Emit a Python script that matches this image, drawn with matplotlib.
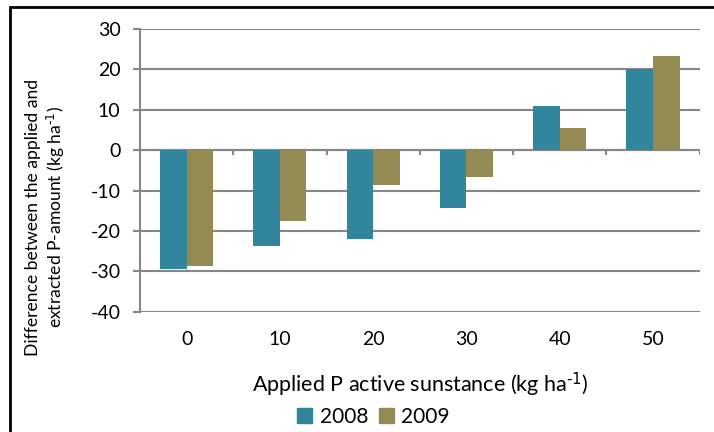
import matplotlib
matplotlib.use('Agg')
import matplotlib.pyplot as plt
from matplotlib.patches import Rectangle, Patch
import numpy as np

# Applied P rates (kg/ha)
categories = ['0', '10', '20', '30', '40', '50']
years = ['2008', '2009']
diff_2008 = [-29.5, -23.6, -22.0, -14.3, 11.0, 20.0]
diff_2009 = [-28.6, -17.5, -8.7, -6.7, 5.5, 23.3]
colors = ['#31859C', '#948A54']

plt.rcParams['font.family'] = ['Lato', 'DejaVu Sans']
plt.rcParams['axes.unicode_minus'] = False
plt.rcParams['mathtext.default'] = 'regular'

fig = plt.figure(figsize=(7.14, 4.32), dpi=100)
ax = fig.add_axes([0.196, 0.278, 0.784, 0.655])

x = np.arange(len(categories))
w = 0.285
ax.bar(x - w / 2, diff_2008, w, color=colors[0], zorder=3)
ax.bar(x + w / 2, diff_2009, w, color=colors[1], zorder=3)

ax.set_xlim(-0.5, len(categories) - 0.5)
ax.set_ylim(-40, 30)
ax.set_yticks(range(-40, 31, 10))
ax.set_xticks(x)
ax.set_xticklabels(categories)

grey = '#868686'
ax.yaxis.grid(True, color=grey, linewidth=1.5, zorder=1)
for s in ['top', 'right', 'bottom']:
    ax.spines[s].set_visible(False)
ax.spines['left'].set_color(grey)
ax.spines['left'].set_linewidth(1.5)
ax.tick_params(axis='y', colors=grey, length=5, width=1.5, labelsize=14,
               labelcolor='black', pad=9)
ax.tick_params(axis='x', length=0, labelsize=14, pad=14)

# zero line with category boundary ticks
ax.axhline(0, color=grey, linewidth=1.5, zorder=2)
bounds = np.arange(len(categories) + 1) - 0.5
ax.vlines(bounds, -1.3, 0, color=grey, linewidth=1.5, zorder=2)

fig.text(46 / 714, 1 - 217 / 432,
         'Difference between the applied and\nextracted P-amount (kg ha$^{\\text{-1}}$)',
         rotation=90, ha='center', va='center', fontsize=12.6, linespacing=1.15,
         multialignment='center')
ax.set_xlabel('Applied P active sunstance (kg ha$^{\\text{-1}}$)', fontsize=15.5, labelpad=16)

handles = [Patch(color=c) for c in colors]
fig.legend(handles, years, loc='center', bbox_to_anchor=(0.523, 0.035), ncol=2,
           frameon=False, fontsize=15, handlelength=0.75, handleheight=0.75,
           handletextpad=0.35, columnspacing=0.5)

# outer frame
fig.patches.append(Rectangle((10 / 714, -0.1), 1.2, 1.1 - 7 / 432, transform=fig.transFigure,
                             fill=False, edgecolor='black', linewidth=2))

fig.savefig('out.png', dpi=100)
